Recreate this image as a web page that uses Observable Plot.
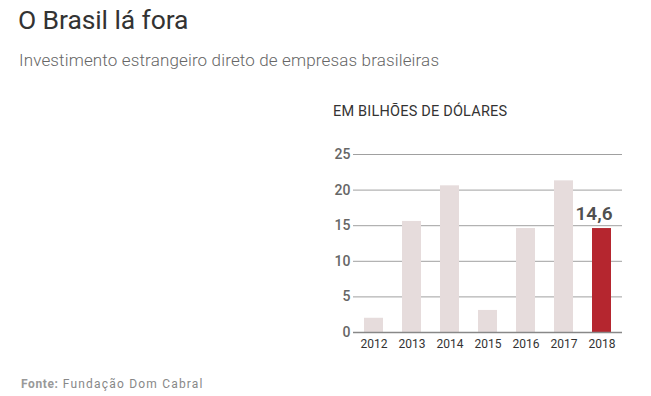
<!DOCTYPE html>
<html>
<head>
<meta charset="utf-8">
<script src="https://cdn.jsdelivr.net/npm/d3@7"></script>
<script src="https://cdn.jsdelivr.net/npm/@observablehq/plot@0.6"></script>
<style>
  body { margin: 0; background: #fff; width: 651px; height: 396px; position: relative; overflow: hidden; font-family: Roboto, "Noto Sans", sans-serif; }
  .title { position: absolute; left: 18px; top: 4px; font-size: 26.5px; color: #333; font-weight: 400; letter-spacing: -0.1px; }
  .subtitle { position: absolute; left: 19px; top: 50px; font-size: 17px; color: #666; font-weight: 300; letter-spacing: 0.15px; }
  .unit { position: absolute; left: 333px; top: 103px; font-size: 14.5px; color: #333; font-weight: 400; letter-spacing: 0.2px; }
  #chart { position: absolute; left: 0; top: 130px; }
  .caption { position: absolute; left: 21px; top: 377px; font-size: 12px; color: #888; letter-spacing: 1.2px; }
  .caption b { color: #999; font-weight: 700; letter-spacing: 0.6px; }
</style>
</head>
<body>
<div class="title">O Brasil lá fora</div>
<div class="subtitle">Investimento estrangeiro direto de empresas brasileiras</div>
<div class="unit">EM BILHÕES DE DÓLARES</div>
<div id="chart"></div>
<div class="caption"><b>Fonte:</b> Fundação Dom Cabral</div>
<script>
const years = ["2012", "2013", "2014", "2015", "2016", "2017", "2018"];
const values = [2.0, 15.6, 20.6, 3.1, 14.6, 21.3, 14.6];
const yTicks = [0, 5, 10, 15, 20, 25];
const highlightYear = "2018";
const highlightLabel = "14,6";

const data = years.map((y, i) => ({year: y, value: values[i]}));
const highlighted = data.filter(d => d.year === highlightYear);

const chart = Plot.plot({
  width: 651,
  height: 230,
  marginLeft: 353,
  marginRight: 29,
  marginTop: 24,
  marginBottom: 28,
  style: {fontFamily: "Roboto, 'Noto Sans', sans-serif", background: "transparent"},
  x: {domain: years, paddingInner: 0.505, paddingOuter: 0.255},
  y: {domain: [0, 25]},
  marks: [
    Plot.gridY(yTicks, {stroke: "#a0a0a0", strokeOpacity: 1, strokeWidth: 1}),
    Plot.barY(data, {x: "year", y: "value", fill: d => d.year === highlightYear ? "#b5262f" : "#e6dcdc"}),
    Plot.ruleY([0], {stroke: "#888", strokeWidth: 1.5}),
    Plot.axisY(yTicks, {tickSize: 0, tickPadding: 3, fontSize: 14, fontWeight: 500, fill: "#666", label: null}),
    Plot.axisX({tickSize: 0, tickPadding: 7, fontSize: 12, fill: "#333", label: null}),
    Plot.text(highlighted, {x: "year", y: "value", text: () => highlightLabel, dy: -9, dx: -8, lineAnchor: "bottom", fontSize: 19, fontWeight: 600, fill: "#505050"})
  ]
});
document.getElementById("chart").appendChild(chart);
</script>
</body>
</html>
